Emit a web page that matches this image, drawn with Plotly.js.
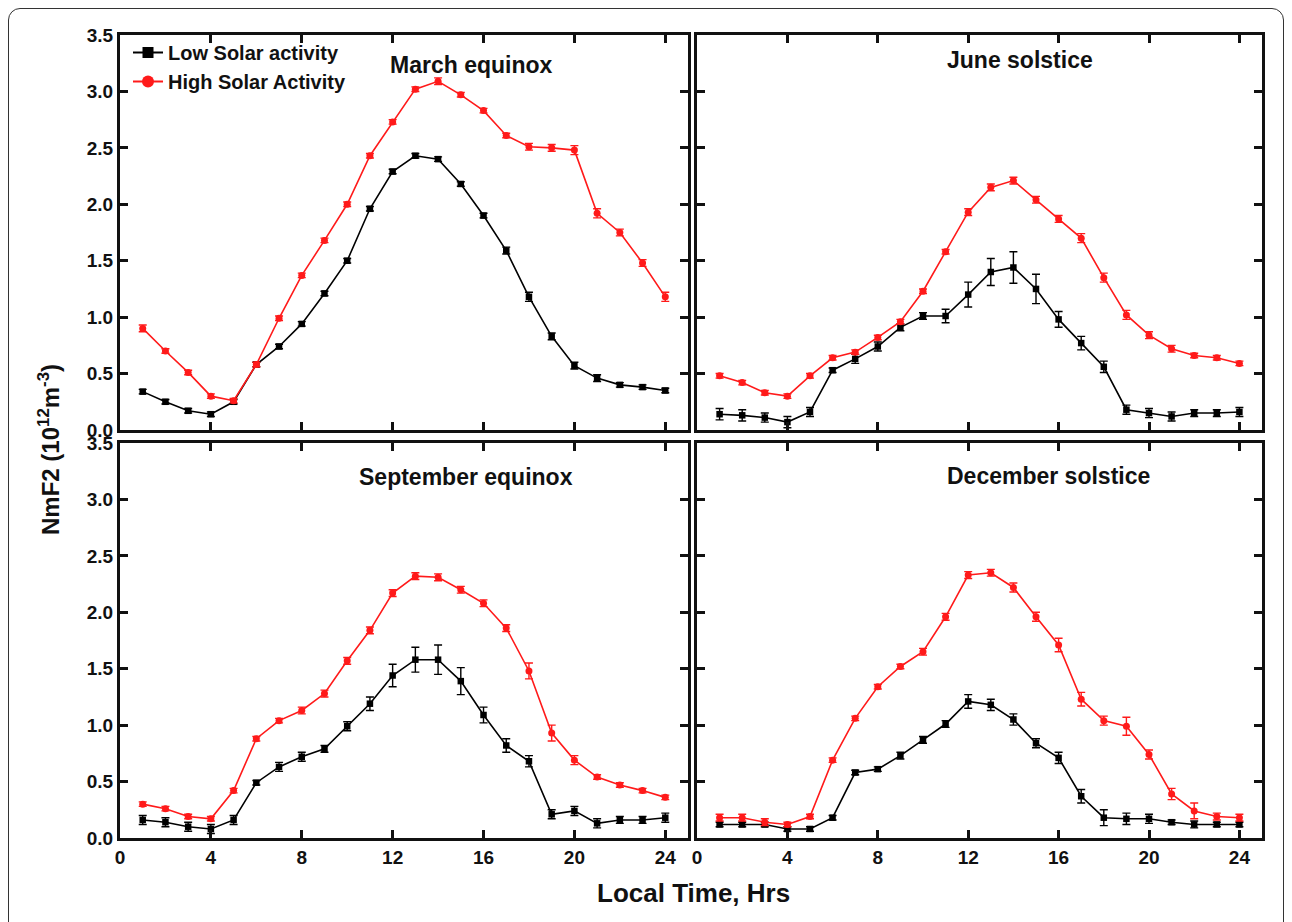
<!DOCTYPE html>
<html>
<head>
<meta charset="utf-8">
<script src="https://cdn.plot.ly/plotly-3.0.1.min.js"></script>
<style>
  html, body { margin: 0; padding: 0; background: #fff; overflow: hidden; }
  #frame { position: absolute; left: 8px; top: 8px; width: 1276px; height: 940px;
           border: 1.5px solid #333; border-radius: 12px; box-sizing: border-box; }
  #chart { position: absolute; left: 0; top: 0; width: 1292px; height: 922px; }
</style>
</head>
<body>
<div id="frame"></div>
<div id="chart"></div>
<script>
// ---- data ----
const hours = [1,2,3,4,5,6,7,8,9,10,11,12,13,14,15,16,17,18,19,20,21,22,23,24];
const seriesNames = ["Low Solar activity", "High Solar Activity"];
const panelTitles = ["March equinox", "June solstice", "September equinox", "December solstice"];
const xTicks = [0,4,8,12,16,20,24];
const yTicks = [0.0,0.5,1.0,1.5,2.0,2.5,3.0,3.5];

const marchLow     = [0.34,0.25,0.17,0.14,0.25,0.58,0.74,0.94,1.21,1.50,1.96,2.29,2.43,2.40,2.18,1.90,1.59,1.18,0.83,0.57,0.46,0.40,0.38,0.35];
const marchLowErr  = [0.02,0.02,0.02,0.02,0.02,0.02,0.02,0.02,0.02,0.02,0.02,0.02,0.02,0.02,0.02,0.02,0.03,0.04,0.03,0.03,0.03,0.02,0.02,0.02];
const marchHigh    = [0.90,0.70,0.51,0.30,0.26,0.58,0.99,1.37,1.68,2.00,2.43,2.73,3.02,3.09,2.97,2.83,2.61,2.51,2.50,2.48,1.92,1.75,1.48,1.18];
const marchHighErr = [0.03,0.02,0.02,0.02,0.02,0.02,0.02,0.02,0.02,0.02,0.02,0.02,0.02,0.03,0.02,0.02,0.02,0.03,0.03,0.04,0.04,0.03,0.03,0.04];

const juneLow      = [0.14,0.13,0.11,0.07,0.16,0.53,0.63,0.74,0.91,1.01,1.01,1.20,1.40,1.44,1.25,0.98,0.77,0.56,0.18,0.15,0.12,0.15,0.15,0.16];
const juneLowErr   = [0.05,0.05,0.04,0.05,0.04,0.02,0.04,0.04,0.03,0.03,0.06,0.11,0.12,0.14,0.13,0.07,0.06,0.05,0.04,0.04,0.04,0.03,0.03,0.04];
const juneHigh     = [0.48,0.42,0.33,0.30,0.48,0.64,0.69,0.82,0.96,1.23,1.58,1.93,2.15,2.21,2.04,1.87,1.70,1.35,1.02,0.84,0.72,0.66,0.64,0.59];
const juneHighErr  = [0.02,0.02,0.02,0.02,0.02,0.02,0.02,0.02,0.02,0.02,0.02,0.03,0.03,0.03,0.03,0.03,0.04,0.04,0.04,0.03,0.03,0.02,0.02,0.02];

const septLow      = [0.16,0.14,0.10,0.08,0.16,0.49,0.63,0.72,0.79,0.99,1.19,1.44,1.58,1.58,1.39,1.09,0.82,0.68,0.21,0.24,0.13,0.16,0.16,0.18];
const septLowErr   = [0.04,0.04,0.04,0.04,0.04,0.02,0.04,0.04,0.03,0.04,0.06,0.10,0.11,0.13,0.12,0.07,0.06,0.05,0.04,0.04,0.04,0.03,0.03,0.04];
const septHigh     = [0.30,0.26,0.19,0.17,0.42,0.88,1.04,1.13,1.28,1.57,1.84,2.17,2.32,2.31,2.20,2.08,1.86,1.48,0.93,0.69,0.54,0.47,0.42,0.36];
const septHighErr  = [0.02,0.02,0.02,0.02,0.02,0.02,0.02,0.03,0.03,0.03,0.03,0.03,0.03,0.03,0.03,0.03,0.03,0.07,0.07,0.04,0.02,0.02,0.02,0.02];

const decLow       = [0.12,0.12,0.12,0.08,0.08,0.18,0.58,0.61,0.73,0.87,1.01,1.21,1.18,1.05,0.84,0.71,0.37,0.18,0.17,0.17,0.14,0.12,0.12,0.12];
const decLowErr    = [0.02,0.02,0.02,0.02,0.02,0.02,0.02,0.02,0.03,0.03,0.03,0.06,0.05,0.05,0.04,0.05,0.06,0.07,0.05,0.04,0.02,0.03,0.02,0.02];
const decHigh      = [0.18,0.18,0.14,0.12,0.19,0.69,1.06,1.34,1.52,1.65,1.96,2.33,2.35,2.22,1.96,1.71,1.23,1.04,0.99,0.74,0.39,0.24,0.19,0.18];
const decHighErr   = [0.03,0.03,0.03,0.02,0.02,0.02,0.02,0.02,0.02,0.03,0.03,0.03,0.03,0.04,0.04,0.06,0.06,0.04,0.08,0.04,0.05,0.07,0.03,0.03];

const panels = [
  {low: marchLow, lowErr: marchLowErr, high: marchHigh, highErr: marchHighErr},
  {low: juneLow,  lowErr: juneLowErr,  high: juneHigh,  highErr: juneHighErr},
  {low: septLow,  lowErr: septLowErr,  high: septHigh,  highErr: septHighErr},
  {low: decLow,   lowErr: decLowErr,   high: decHigh,   highErr: decHighErr}
];

const FONT = "'Liberation Sans', Arial, sans-serif";
const RED = "#ff1a1a";
const INK = "#111";

const traces = [];
panels.forEach((p, i) => {
  const ax = i === 0 ? "" : String(i + 1);
  traces.push({
    x: hours, y: p.low, type: "scatter", mode: "lines+markers",
    name: seriesNames[0], showlegend: false,
    xaxis: "x" + ax, yaxis: "y" + ax,
    line: {color: "#000", width: 1.6},
    marker: {symbol: "square", size: 6.5, color: "#000"},
    error_y: {type: "data", array: p.lowErr, visible: true, color: "#000", thickness: 1.4, width: 4}
  });
  traces.push({
    x: hours, y: p.high, type: "scatter", mode: "lines+markers",
    name: seriesNames[1], showlegend: false,
    xaxis: "x" + ax, yaxis: "y" + ax,
    line: {color: RED, width: 1.6},
    marker: {symbol: "circle", size: 7, color: RED},
    error_y: {type: "data", array: p.highErr, visible: true, color: RED, thickness: 1.4, width: 4}
  });
});
// legend entries: same March series on a hidden overlay axis whose range shows none of it,
// so only the (larger) legend symbols are visible, as in the reference
traces.push({
  x: hours, y: marchLow, type: "scatter", mode: "lines+markers", name: seriesNames[0],
  xaxis: "x5", yaxis: "y5", showlegend: true,
  line: {color: "#000", width: 2}, marker: {symbol: "square", size: 11, color: "#000"}
});
traces.push({
  x: hours, y: marchHigh, type: "scatter", mode: "lines+markers", name: seriesNames[1],
  xaxis: "x5", yaxis: "y5", showlegend: true,
  line: {color: RED, width: 2}, marker: {symbol: "circle", size: 12, color: RED}
});

const W = 1292, H = 922;
const xDomL = [120 / W, 688 / W], xDomR = [697 / W, 1262 / W];
const yDomT = [1 - 430 / H, 1 - 35 / H], yDomB = [1 - 838 / H, 1 - 443 / H];

function xAxis(domain, showLabels, anchor) {
  return {
    domain: domain, anchor: anchor, range: [0, 25], tickvals: xTicks,
    ticktext: xTicks.map(String), showticklabels: showLabels,
    ticks: "inside", ticklen: 8, tickwidth: 3, tickcolor: INK,
    showline: true, linewidth: 3, linecolor: INK, mirror: "allticks",
    showgrid: false, zeroline: false,
    tickfont: {family: FONT, size: 19, color: INK, weight: "bold"}
  };
}
function yAxis(domain, showLabels, anchor) {
  return {
    domain: domain, anchor: anchor, range: [0, 3.5], tickvals: yTicks,
    ticktext: yTicks.map(v => v.toFixed(1)), showticklabels: showLabels,
    ticks: "inside", ticklen: 8, tickwidth: 3, tickcolor: INK,
    showline: true, linewidth: 3, linecolor: INK, mirror: "allticks",
    showgrid: false, zeroline: false,
    tickfont: {family: FONT, size: 19, color: INK, weight: "bold"}
  };
}

const titlePos = [
  {x: 471, y: 65}, {x: 1020, y: 60}, {x: 466, y: 477}, {x: 1048, y: 476}
];
const annotations = panelTitles.map((t, i) => ({
  text: t, xref: "paper", yref: "paper",
  x: titlePos[i].x / W, y: 1 - titlePos[i].y / H,
  xanchor: "center", yanchor: "middle", showarrow: false,
  font: {family: FONT, size: 23, color: INK, weight: "bold"}
}));
annotations.push({
  text: "NmF2 (10<sup>12</sup>m<sup>-3</sup>)", xref: "paper", yref: "paper",
  x: 49 / W, y: 1 - 450 / H, textangle: -90, showarrow: false,
  xanchor: "center", yanchor: "middle",
  font: {family: FONT, size: 24, color: INK, weight: "bold"}
});
annotations.push({
  text: "Local Time, Hrs", xref: "paper", yref: "paper",
  x: 693 / W, y: 1 - 893 / H, showarrow: false,
  xanchor: "center", yanchor: "middle",
  font: {family: FONT, size: 26, color: INK, weight: "bold"}
});

const layout = {
  width: W, height: H,
  margin: {l: 0, r: 0, t: 0, b: 0},
  paper_bgcolor: "rgba(0,0,0,0)", plot_bgcolor: "#fff",
  showlegend: true,
  legend: {
    x: 128 / W, y: 1 - 33 / H, xanchor: "left", yanchor: "top",
    bgcolor: "rgba(0,0,0,0)", borderwidth: 0, tracegroupgap: 0,
    font: {family: FONT, size: 20, color: INK, weight: "bold"}
  },
  xaxis:  xAxis(xDomL, false, "y"),
  yaxis:  yAxis(yDomT, true, "x"),
  xaxis2: xAxis(xDomR, false, "y2"),
  yaxis2: yAxis(yDomT, false, "x2"),
  xaxis3: xAxis(xDomL, true, "y3"),
  yaxis3: yAxis(yDomB, true, "x3"),
  xaxis4: xAxis(xDomR, true, "y4"),
  yaxis4: yAxis(yDomB, false, "x4"),
  xaxis5: {overlaying: "x", anchor: "y5", range: [-200, -100], visible: false, fixedrange: true},
  yaxis5: {overlaying: "y", anchor: "x5", range: [-200, -100], visible: false, fixedrange: true},
  annotations: annotations
};

Plotly.newPlot("chart", traces, layout, {displayModeBar: false, staticPlot: true});
</script>
</body>
</html>
